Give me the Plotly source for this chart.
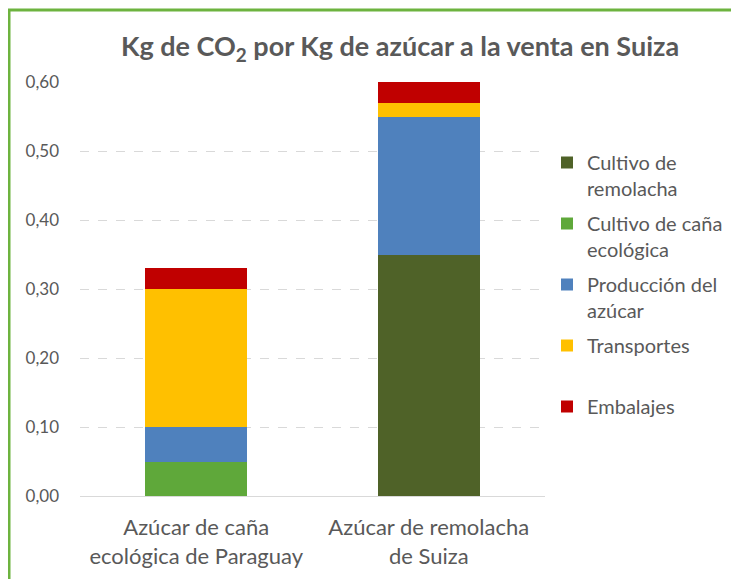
import plotly.graph_objects as go

categories = ["Azúcar de caña<br>ecológica de Paraguay", "Azúcar de remolacha<br>de Suiza"]
series_names = ["Cultivo de<br>remolacha", "Cultivo de caña<br>ecológica", "Producción del<br>azúcar", "Transportes<br> ", "Embalajes"]
cultivo_remolacha = [0.0, 0.35]
cultivo_cana = [0.05, 0.0]
produccion = [0.05, 0.20]
transportes = [0.20, 0.02]
embalajes = [0.03, 0.03]
y_ticks = [0.0, 0.1, 0.2, 0.3, 0.4, 0.5, 0.6]

colors = ["#4F6228", "#5FA83A", "#4F81BD", "#FFC000", "#C00000"]
values = [cultivo_remolacha, cultivo_cana, produccion, transportes, embalajes]

FONT = "Lato"
GRAY = "#595959"

fig = go.Figure()
for i, (name, vals, col) in enumerate(zip(series_names, values, colors)):
    fig.add_trace(go.Bar(x=categories, y=vals, name=name, legendgroup=f"g{i}",
                         marker=dict(color=col, line=dict(width=0)), width=0.44))

# page body has an 8px margin, so figure coords = screen coords - 8
W, H = 739, 579
L, T = 72, 74
R, B = W - 537, H - 488
pw, ph = W - L - R, H - T - B

fig.update_layout(
    width=W, height=H,
    barmode="stack",
    separators=", ",
    paper_bgcolor="white", plot_bgcolor="white",
    margin=dict(l=L, r=R, t=T, b=B, autoexpand=False),
    font=dict(family=FONT, color=GRAY),
    title=dict(text="Kg de CO<sub>2</sub> por Kg de azúcar a la venta en Suiza",
               x=392 / W, xanchor="center", y=1 - 39 / H, yanchor="middle",
               font=dict(size=27, family=FONT, color=GRAY, weight="bold")),
    showlegend=True,
    legend=dict(x=(539 - L) / pw, xanchor="left", y=(H - B - 135) / ph, yanchor="top",
                traceorder="grouped", valign="top", font=dict(size=20, color=GRAY, family=FONT),
                itemwidth=30, bgcolor="rgba(0,0,0,0)", tracegroupgap=6),
    xaxis=dict(showline=True, linecolor="#D9D9D9", linewidth=1, showgrid=False,
               tickfont=dict(size=22, color=GRAY, family=FONT), ticks="", ticklabelstandoff=12),
    yaxis=dict(range=[0, 0.6], tickvals=y_ticks, tickformat=".2f", showline=False,
               gridcolor="#D9D9D9", griddash="dash", gridwidth=1, zeroline=False,
               tickfont=dict(size=17, color=GRAY, family=FONT), ticklabelstandoff=20),
    shapes=[dict(type="rect", xref="paper", yref="paper",
                 x0=(1 - L) / pw, x1=2.0, y0=-1.0, y1=(H - B - 2) / ph,
                 line=dict(color="#6DB33F", width=3), layer="below")],
)

fig.write_html("out.html")
